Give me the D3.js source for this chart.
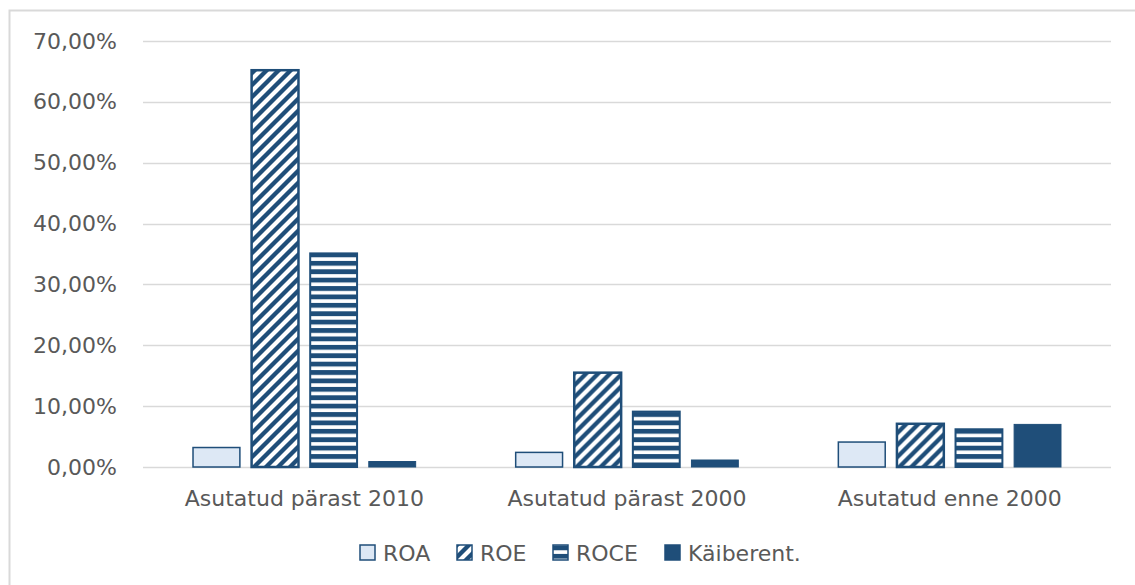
<!DOCTYPE html>
<html>
<head>
<meta charset="utf-8">
<script src="https://cdn.jsdelivr.net/npm/d3@7"></script>
<style>
    body { margin: 0; background: #fff; }
    svg { display: block; font-family: 'DejaVu Sans', sans-serif; }
</style>
</head>
<body>
<svg id="chartSVG" width="1135" height="585"></svg>
<script>
const categories = ['Asutatud pärast 2010', 'Asutatud pärast 2000', 'Asutatud enne 2000'];
const seriesNames = ['ROA', 'ROE', 'ROCE', 'Käiberent.'];
const roa = [3.2, 2.4, 4.1];
const roe = [65.2, 15.5, 7.1];
const roce = [35.1, 9.1, 6.2];
const kaiberent = [0.9, 1.15, 7.0];
const yTicks = [0, 10, 20, 30, 40, 50, 60, 70];

const darkBlue = '#1f4e79';
const lightBlue = '#dde8f5';
const grey = '#595959';

const seriesValues = [roa, roe, roce, kaiberent];
const data = categories.map(function(c, i) {
    return {
        category: c,
        values: seriesNames.map(function(s, j) {
            return { key: s, value: seriesValues[j][i] };
        })
    };
});

const svg = d3.select('#chartSVG');

// chart frame
svg.append('rect')
    .attr('x', 9.5)
    .attr('y', 10.5)
    .attr('width', 1200)
    .attr('height', 700)
    .attr('fill', 'none')
    .attr('stroke', '#d9d9d9')
    .attr('stroke-width', 2);

const defs = svg.append('defs');

const diag = defs.append('pattern')
    .attr('id', 'diag')
    .attr('patternUnits', 'userSpaceOnUse')
    .attr('width', 12)
    .attr('height', 12);
diag.append('rect').attr('width', 12).attr('height', 12).attr('fill', '#fff');
diag.append('path')
    .attr('d', 'M-3,3 L3,-3 M0,12 L12,0 M9,15 L15,9')
    .attr('stroke', darkBlue)
    .attr('stroke-width', 4.3);

const horiz = defs.append('pattern')
    .attr('id', 'horiz')
    .attr('patternUnits', 'userSpaceOnUse')
    .attr('width', 8.4)
    .attr('height', 8.4)
    .attr('y', 0.5);
horiz.append('rect').attr('width', 8.4).attr('height', 8.4).attr('fill', '#fff');
horiz.append('rect').attr('width', 8.4).attr('height', 4.8).attr('fill', darkBlue);

const fills = {
    'ROA': lightBlue,
    'ROE': 'url(#diag)',
    'ROCE': 'url(#horiz)',
    'Käiberent.': darkBlue
};
const strokeWidths = { 'ROA': 1.5, 'ROE': 2.5, 'ROCE': 2, 'Käiberent.': 1 };

const x0 = d3.scaleBand()
    .domain(categories)
    .range([143, 1111])
    .paddingInner(0.31)
    .paddingOuter(0.155);

const x1 = d3.scaleBand()
    .domain(seriesNames)
    .range([0, x0.bandwidth()])
    .paddingInner(0.2);

const y = d3.scaleLinear()
    .domain([0, 70])
    .range([467, 41]);

// gridlines
svg.append('g')
    .selectAll('line')
    .data(yTicks).enter()
    .append('line')
        .attr('x1', 143)
        .attr('x2', 1111)
        .attr('y1', function(d) { return Math.round(y(d)) + 0.5; })
        .attr('y2', function(d) { return Math.round(y(d)) + 0.5; })
        .attr('stroke', '#d9d9d9')
        .attr('stroke-width', 1.5);

const yAxis = svg.append('g')
    .attr('transform', 'translate(117,0)')
    .call(d3.axisLeft(y)
        .tickValues(yTicks)
        .tickSize(0)
        .tickPadding(0)
        .tickFormat(function(d) { return d3.format('.2f')(d).replace('.', ',') + '%'; }));
yAxis.select('.domain').remove();
yAxis.selectAll('text')
    .attr('fill', grey)
    .style('font-size', '22px')
    .style('font-family', 'DejaVu Sans, sans-serif');

const xAxis = svg.append('g')
    .attr('transform', 'translate(0,467)')
    .call(d3.axisBottom(x0).tickSize(0).tickPadding(0));
xAxis.select('.domain').remove();
xAxis.selectAll('text')
    .attr('dy', 0)
    .attr('y', 39)
    .attr('fill', grey)
    .style('font-size', '22px')
    .style('font-family', 'DejaVu Sans, sans-serif');

// bars
svg.append('g')
    .selectAll('g')
    .data(data).enter()
    .append('g')
        .attr('transform', function(d) { return 'translate(' + x0(d.category) + ',0)'; })
    .selectAll('rect')
    .data(function(d) { return d.values; }).enter()
    .append('rect')
        .attr('x', function(d) { return x1(d.key); })
        .attr('y', function(d) { return y(d.value); })
        .attr('width', x1.bandwidth())
        .attr('height', function(d) { return y(0) - y(d.value); })
        .attr('fill', function(d) { return fills[d.key]; })
        .attr('stroke', darkBlue)
        .attr('stroke-width', function(d) { return strokeWidths[d.key]; });

// legend
const legendX = [360, 457, 553, 665];
const legend = svg.append('g')
    .selectAll('g')
    .data(seriesNames).enter()
    .append('g')
        .attr('transform', function(d, i) { return 'translate(' + legendX[i] + ',545)'; });

legend.append('rect')
    .attr('width', 15)
    .attr('height', 15)
    .attr('fill', function(d) { return fills[d]; })
    .attr('stroke', darkBlue)
    .attr('stroke-width', 1.5);

legend.append('text')
    .attr('x', 23)
    .attr('y', 16)
    .attr('fill', grey)
    .style('font-size', '22px')
    .text(function(d) { return d; });
</script>
</body>
</html>
